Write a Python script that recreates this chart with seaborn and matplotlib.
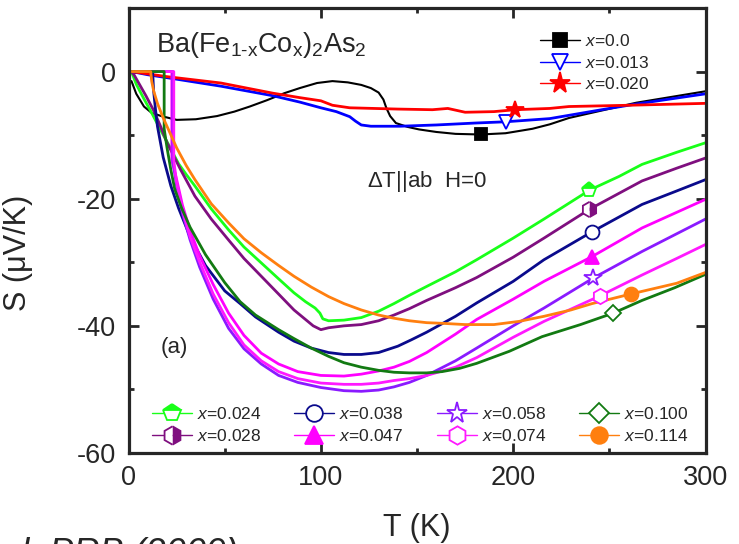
import numpy as np
import pandas as pd
import matplotlib
matplotlib.use("Agg")
import matplotlib.pyplot as plt
from matplotlib.lines import Line2D
from matplotlib.ticker import MultipleLocator
import seaborn as sns

# Co content of each sample
compositions = ["0.0", "0.013", "0.020", "0.024", "0.028", "0.038",
                "0.047", "0.058", "0.074", "0.100", "0.114"]

# Thermopower S (uV/K) versus temperature T (K) for each composition
T_000 = [1.5, 4, 8, 12, 17, 25, 35, 46, 55, 63, 72, 81, 89, 98, 106, 114, 121, 126, 130, 132.5,
         134, 136, 139, 145, 151, 160, 170, 183, 196, 210, 219, 229, 245, 264, 282, 300]
S_000 = [-1.5, -3.5, -5.5, -6.5, -7.0, -7.6, -7.5, -7.0, -6.3, -5.5, -4.5, -3.4, -2.6, -1.8, -1.5,
         -1.7, -2.1, -2.6, -3.3, -4.4, -5.7, -7.0, -8.1, -8.7, -9.1, -9.5, -9.8, -9.9, -9.7, -9.0,
         -8.3, -7.3, -6.2, -4.9, -4.0, -3.1]

T_013 = [1.5, 10, 25, 48, 75, 89, 100, 108, 115, 118, 121, 126, 141, 160, 180, 196, 219, 246,
         264, 282, 300]
S_013 = [0, -0.5, -1.2, -2.3, -3.8, -4.8, -5.7, -6.3, -7.1, -7.8, -8.4, -8.6, -8.6, -8.4, -8.1,
         -7.9, -7.4, -6.0, -5.1, -4.3, -3.5]

T_020 = [1.5, 20, 48, 75, 89, 100, 106, 115, 140, 158, 166, 175, 190, 201, 219, 229, 260, 300]
S_020 = [0, -0.8, -1.8, -3.4, -4.1, -4.6, -5.3, -5.7, -5.9, -6.0, -5.8, -6.4, -6.3, -6.0, -5.8,
         -5.5, -5.3, -5.0]

T_024 = [1.5, 4, 8, 12, 17, 21, 26, 30, 34.5, 43, 52, 60, 69, 78, 86, 92, 97, 99.5, 101, 104,
         112, 121, 130, 138, 146, 155, 170, 181, 200, 216, 240, 255, 267, 285, 300]
S_024 = [0, -2.0, -4.3, -6.5, -9.4, -11.6, -14.5, -16.2, -18.0, -21.6, -24.9, -27.6, -30.1,
         -32.6, -34.8, -36.2, -37.2, -38.0, -38.9, -39.2, -39.1, -38.7, -37.7, -36.5, -35.2,
         -33.8, -31.5, -29.6, -26.2, -23.2, -18.6, -16.5, -14.6, -12.7, -11.2]

T_028 = [1.5, 3, 6, 9, 13, 16.6, 20, 27, 34.5, 43, 52, 60, 69, 78, 86, 92, 96, 100, 104, 112,
         121, 130, 138, 146, 155, 170, 181, 200, 216, 240, 267, 285, 300]
S_028 = [0, -0.6, -2.2, -3.8, -6.1, -8.6, -11.2, -15.4, -19.6, -23.2, -26.5, -29.4, -32.2,
         -35.0, -37.5, -39.0, -40.0, -40.6, -40.3, -40.0, -39.8, -39.2, -38.3, -37.3, -36.0,
         -34.0, -32.4, -29.2, -26.2, -21.6, -17.2, -15.2, -13.6]

T_038 = [1.5, 12.5, 13, 14, 15, 18, 22, 26, 32, 40, 50, 58, 66, 78, 86, 95, 104, 112, 121, 130,
         140, 147, 155, 170, 181, 200, 216, 241, 267, 284, 300]
S_038 = [0, 0, -3, -6, -8.6, -13.5, -18.0, -21.5, -26.0, -30.5, -34.5, -36.5, -38.6, -41.0,
         -42.4, -43.5, -44.2, -44.5, -44.5, -44.2, -43.2, -42.2, -41.0, -38.5, -36.4, -33.0,
         -29.6, -25.2, -20.9, -18.9, -17.0]

T_047 = [1.5, 22.5, 22.5, 25, 28, 32, 37, 44, 52, 60, 69, 78, 88, 100, 112, 121, 130, 138, 146,
         155, 170, 181, 200, 216, 241, 267, 300]
S_047 = [0, 0, -14, -17, -21, -25, -29, -33.5, -38, -41.5, -44.3, -46.0, -47.2, -47.8, -47.9,
         -47.6, -47.1, -46.5, -45.6, -44.2, -41.3, -39.0, -35.8, -33.0, -29.1, -24.6, -20.1]

T_058 = [1.5, 23, 23, 25, 28, 32, 37, 44, 52, 60, 69, 78, 88, 100, 112, 121, 130, 138, 146, 155,
         170, 181, 200, 216, 241.5, 267, 300]
S_058 = [0, 0, -14, -18, -22.3, -26.5, -30.8, -35.8, -40.4, -43.6, -46.0, -47.8, -48.9, -49.7,
         -50.2, -50.3, -50.1, -49.6, -48.9, -47.8, -45.5, -43.5, -40.0, -37.2, -32.5, -28.3,
         -23.2]

T_074 = [1.5, 23.5, 23.5, 25, 28, 32, 37, 44, 52, 60, 69, 78, 88, 100, 112, 121, 130, 138, 146,
         155, 170, 181, 200, 216, 245, 267, 285, 300]
S_074 = [0, 0, -14, -17.5, -21.8, -26, -30, -35, -39.5, -43, -45.5, -47.2, -48.3, -49.0, -49.2,
         -49.2, -49.0, -48.6, -48.3, -47.8, -46.5, -45.0, -41.8, -39.3, -35.3, -32.0, -29.4,
         -27.2]

T_100 = [1.5, 18.5, 18.5, 20, 22, 24, 27.6, 32, 40, 50, 58, 66, 78, 86, 95, 104, 112, 121, 130,
         138, 146, 155, 163, 172, 181, 198, 215, 235, 252, 267, 284, 300]
S_100 = [0, 0, -9, -12, -15.5, -18.5, -21.5, -24.5, -28.8, -33.2, -36.2, -38.3, -40.6, -42.0,
         -43.5, -44.8, -45.8, -46.5, -47.0, -47.3, -47.4, -47.4, -47.2, -46.7, -45.9, -44.0,
         -41.7, -39.8, -38.0, -36.0, -34.0, -31.9]

T_114 = [1.5, 11.5, 12, 13, 15, 18, 21, 25, 30, 34.5, 43, 52, 60, 69, 78, 86, 95, 104, 112, 121,
         130, 138, 146, 155, 163, 175, 190, 203, 216, 230, 241, 261, 285, 300]
S_114 = [0, 0, -1.5, -3, -5, -7.3, -9.3, -12, -14.8, -17.0, -20.8, -23.8, -26.3, -28.5, -30.5,
         -32.2, -33.9, -35.4, -36.5, -37.5, -38.3, -38.8, -39.2, -39.5, -39.6, -39.8, -39.8,
         -39.3, -38.5, -37.5, -36.5, -35.0, -33.3, -31.6]

# Temperature at which each curve carries its symbol
marker_T = [183.5, 196.5, 201, 239.5, 239.5, 241, 241, 241.5, 245, 252, 261]

T_all = [T_000, T_013, T_020, T_024, T_028, T_038, T_047, T_058, T_074, T_100, T_114]
S_all = [S_000, S_013, S_020, S_024, S_028, S_038, S_047, S_058, S_074, S_100, S_114]

colors = ["#000000", "#0000ff", "#ff0000", "#19ff19", "#7f0f7f", "#0a0a8c",
          "#ff00ff", "#8a1aff", "#ff19ff", "#127a12", "#ff7f0f"]
# marker, size, fill style ("none" = open symbol)
styles = [("s", 8.5, "full"),
          ("v", 10, "none"),
          ("*", 13, "full"),
          ("p", 11, "top"),
          ("h", 11, "right"),
          ("o", 10, "none"),
          ("^", 10.5, "full"),
          ("*", 13, "none"),
          ("h", 11, "none"),
          ("D", 8.5, "none"),
          ("o", 10, "full")]

labels = [f"x={c}" for c in compositions]

frames = []
for lab, T, S in zip(labels, T_all, S_all):
    frames.append(pd.DataFrame({"T": T, "S": S, "x": lab}))
df = pd.concat(frames, ignore_index=True)

sns.set_style("ticks")
plt.rcParams["font.family"] = ["Liberation Sans", "DejaVu Sans"]
plt.rcParams["mathtext.fontset"] = "custom"
plt.rcParams["mathtext.rm"] = "Liberation Sans"
plt.rcParams["mathtext.it"] = "Liberation Sans:italic"
plt.rcParams["axes.unicode_minus"] = False

fig = plt.figure(figsize=(7.39, 5.44), dpi=100)
ax = fig.add_axes([0.174, 0.1673, 0.7807, 0.818])

palette = dict(zip(labels, colors))
sns.lineplot(data=df, x="T", y="S", hue="x", hue_order=labels, palette=palette,
             estimator=None, sort=False, linewidth=2.0, legend=False, ax=ax)
ax.lines[0].set_linewidth(1.5)


def marker_kw(i, scale=1.0):
    m, ms, fs = styles[i]
    fill = "full" if fs in ("full", "none") else fs
    return dict(marker=m, markersize=ms * scale, markeredgecolor=colors[i],
                markeredgewidth=1.3, fillstyle=fill,
                markerfacecolor=colors[i] if fs != "none" else "white",
                markerfacecoloralt="white")


handles = []
for i, lab in enumerate(labels):
    ty = float(np.interp(marker_T[i], T_all[i], S_all[i]))
    ax.plot([marker_T[i]], [ty], linestyle="none", zorder=5, **marker_kw(i))
    handles.append(Line2D([], [], color=colors[i], lw=1.0, **marker_kw(i, 1.2)))

ax.set_xlim(0, 300)
ax.set_ylim(-60, 10)
ax.xaxis.set_major_locator(MultipleLocator(100))
ax.xaxis.set_minor_locator(MultipleLocator(50))
ax.yaxis.set_major_locator(MultipleLocator(20))
ax.yaxis.set_minor_locator(MultipleLocator(10))
ax.tick_params(which="both", direction="in", top=True, right=True, width=2.0,
               labelsize=19.5, pad=9)
ax.tick_params(which="major", length=7)
ax.tick_params(which="minor", length=3.5)
for sp in ax.spines.values():
    sp.set_linewidth(2.3)

ax.set_xlabel("T (K)", fontsize=22)
ax.set_ylabel("S (\u03bcV/K)", fontsize=22)
ax.xaxis.set_label_coords(0.5, -0.135)
ax.yaxis.set_label_coords(-0.165, 0.45)

leg_txt = [f"$x$={c}" for c in compositions]
leg1 = ax.legend(handles[:3], leg_txt[:3], loc="upper left", bbox_to_anchor=(0.713, 0.943),
                 frameon=False, fontsize=12.5, handlelength=2.3, handletextpad=0.3,
                 borderpad=0, borderaxespad=0, labelspacing=0.32)
ax.add_artist(leg1)
ax.legend(handles[3:], leg_txt[3:], loc="upper left", bbox_to_anchor=(0.04, 0.105), ncol=4,
          frameon=False, fontsize=12.5, handlelength=2.3, handletextpad=0.3,
          borderpad=0, borderaxespad=0, labelspacing=0.32, columnspacing=1.9)

ax.text(0.047, 0.917,
        r"Ba(Fe$_{\mathrm{1\text{-}x}}$Co$_{\mathrm{x}}$)$_{\mathrm{2}}$As$_{\mathrm{2}}$",
        transform=ax.transAxes, fontsize=19.5, va="center", ha="left")
ax.text(0.413, 0.609, r"$\Delta$T||ab  H=0", transform=ax.transAxes, fontsize=16,
        va="center", ha="left")
ax.text(0.055, 0.236, "(a)", transform=ax.transAxes, fontsize=16, va="center", ha="left")

fig.text(238 / 739, -0.037, "et al. PRB (2009)", style="italic", fontsize=26,
         ha="right", va="baseline")

fig.savefig("out.png", dpi=100)
